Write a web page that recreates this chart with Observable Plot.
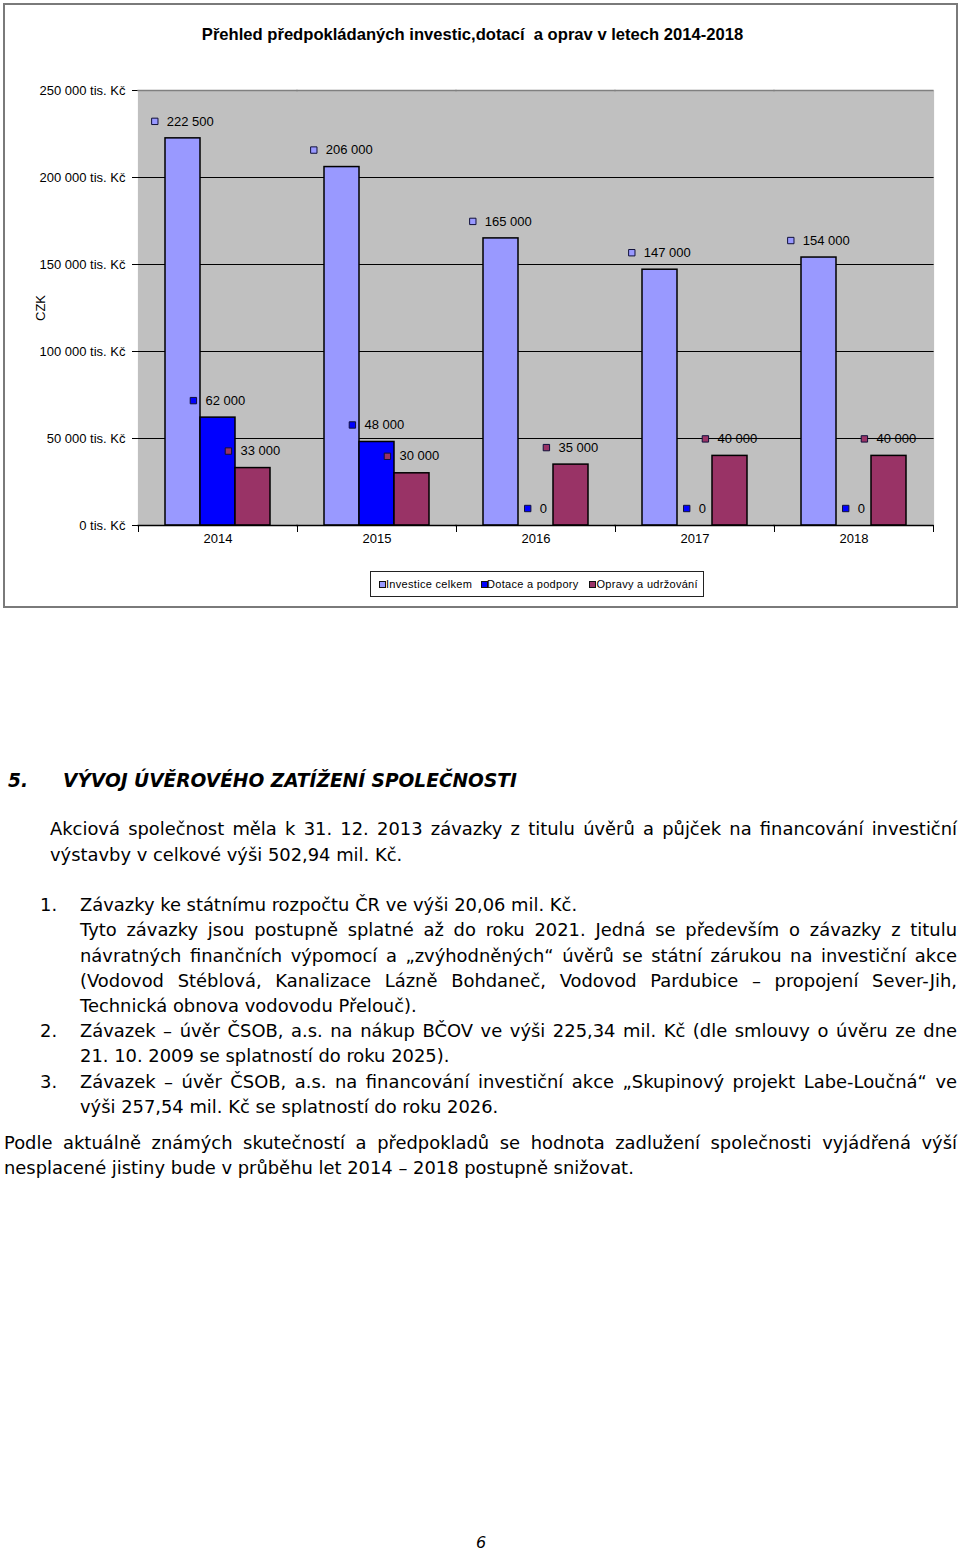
<!DOCTYPE html>
<html>
<head>
<meta charset="utf-8">
<script src="https://cdn.jsdelivr.net/npm/d3@7"></script>
<script src="https://cdn.jsdelivr.net/npm/@observablehq/plot@0.6"></script>
<style>
  html, body { margin: 0; padding: 0; background: #fff; }
  body { position: relative; width: 960px; height: 1553px; overflow: hidden; color: #000; }
  #box { position: absolute; left: 3px; top: 3px; width: 951px; height: 601px; border: 2px solid #7a7a7a; }
  #title { position: absolute; left: 0; width: 945px; top: 25px; text-align: center; white-space: pre;
           font: bold 16.6px/20px "Liberation Sans", Arial, sans-serif; }
  #chart { position: absolute; left: 0; top: 60px; }
  #legend { position: absolute; left: 370px; top: 571px; width: 332px; height: 24px; border: 1.5px solid #222;
            font: 11px/24px "Liberation Sans", Arial, sans-serif; }
  .li { position: absolute; top: 0; white-space: nowrap; letter-spacing: 0.3px; }
  .sw { position: absolute; top: 9px; width: 5px; height: 5px; border: 1px solid #111; }
  .doc { position: absolute; white-space: nowrap; font-family: "DejaVu Sans", sans-serif; font-size: 17.9px; line-height: 24px; }
  .just { text-align: justify; text-align-last: justify; }
  .h5 { position: absolute; top: 768px; font: italic bold 18.6px/26px "DejaVu Sans", sans-serif; white-space: nowrap; }
  #pg { position: absolute; left: 476px; top: 1532px; font: italic 16px/22px "DejaVu Sans", sans-serif; }
</style>
</head>
<body>
<div id="box"></div>
<div id="title"></div>
<div id="chart"></div>
<div id="legend"></div>

<div class="h5" style="left:8px">5.</div>
<div class="h5" style="left:63px">VÝVOJ ÚVĚROVÉHO ZATÍŽENÍ SPOLEČNOSTI</div>

<div class="doc just" style="left:50px;top:817px;width:907px">Akciová společnost měla k 31. 12. 2013 závazky z titulu úvěrů a půjček na financování investiční</div>
<div class="doc" style="left:50px;top:843px">výstavby v celkové výši 502,94 mil. Kč.</div>
<div class="doc" style="left:40px;top:893px">1.</div>
<div class="doc" style="left:80px;top:893px">Závazky ke státnímu rozpočtu ČR ve výši 20,06 mil. Kč.</div>
<div class="doc just" style="left:80px;top:918px;width:877px">Tyto závazky jsou postupně splatné až do roku 2021. Jedná se především o závazky z titulu</div>
<div class="doc just" style="left:80px;top:944px;width:877px">návratných finančních výpomocí a „zvýhodněných“ úvěrů se státní zárukou na investiční akce</div>
<div class="doc just" style="left:80px;top:969px;width:877px">(Vodovod Stéblová, Kanalizace Lázně Bohdaneč, Vodovod Pardubice – propojení Sever-Jih,</div>
<div class="doc" style="left:80px;top:994px">Technická obnova vodovodu Přelouč).</div>
<div class="doc" style="left:40px;top:1019px">2.</div>
<div class="doc just" style="left:80px;top:1019px;width:877px">Závazek – úvěr ČSOB, a.s. na nákup BČOV ve výši 225,34 mil. Kč (dle smlouvy o úvěru ze dne</div>
<div class="doc" style="left:80px;top:1044px">21. 10. 2009 se splatností do roku 2025).</div>
<div class="doc" style="left:40px;top:1070px">3.</div>
<div class="doc just" style="left:80px;top:1070px;width:877px">Závazek – úvěr ČSOB, a.s. na financování investiční akce „Skupinový projekt Labe-Loučná“ ve</div>
<div class="doc" style="left:80px;top:1095px">výši 257,54 mil. Kč se splatností do roku 2026.</div>
<div class="doc just" style="left:4px;top:1131px;width:953px">Podle aktuálně známých skutečností a předpokladů se hodnota zadlužení společnosti vyjádřená výší</div>
<div class="doc" style="left:4px;top:1156px">nesplacené jistiny bude v průběhu let 2014 – 2018 postupně snižovat.</div>

<div id="pg">6</div>

<script>
// ---------------- data ----------------
const chartTitle = "Přehled předpokládaných investic,dotací  a oprav v letech 2014-2018";
const years = [2014, 2015, 2016, 2017, 2018];
const seriesNames = ["Investice celkem", "Dotace a podpory", "Opravy a udržování"];
const investice = [222500, 206000, 165000, 147000, 154000];
const dotace = [62000, 48000, 0, 0, 0];
const opravy = [33000, 30000, 35000, 40000, 40000];
const seriesColors = ["#9999ff", "#0000ff", "#993366"];
const yTicks = [0, 50000, 100000, 150000, 200000, 250000];
const yTickLabels = ["0 tis. Kč", "50 000 tis. Kč", "100 000 tis. Kč", "150 000 tis. Kč", "200 000 tis. Kč", "250 000 tis. Kč"];
const yLabel = "CZK";

// ---------------- table ----------------
const seriesValues = [investice, dotace, opravy];
const fmt = v => d3.format(",")(v).replace(/,/g, " ");
const rows = [];
years.forEach((year, i) => seriesNames.forEach((s, j) => rows.push({year, series: s, value: seriesValues[j][i], label: fmt(seriesValues[j][i])})));

// ---------------- layout ----------------
const W = 960, H = 500, mt = 30, mb = 35, ml = 136, mr = 25;
const innerH = H - mt - mb;
const font = '"Liberation Sans", Arial, sans-serif';
const labelFontSize = 13;

document.getElementById("title").textContent = chartTitle;

// measure label widths to center swatch + text group over each bar
const ctx = document.createElement("canvas").getContext("2d");
ctx.font = `${labelFontSize}px ${font}`;
const widthOf = t => ctx.measureText(t).width;
const swGap = 12, swHalf = 3.5, shift = 1.3;
const groups = d3.groups(rows, d => Math.round(widthOf(d.label) * 10) / 10);
const labelMarks = groups.flatMap(([w, data]) => {
  const total = swHalf + swGap + w + swHalf;
  const swDx = -total / 2 + swHalf + shift;
  return [
    Plot.dot(data, {fx: "year", x: "series", y: "value", dy: -17, dx: swDx, symbol: "square", r: 3.6,
                    fill: "series", stroke: "#10103a", strokeWidth: 1}),
    Plot.text(data, {fx: "year", x: "series", y: "value", dy: -17, dx: swDx + swGap, text: "label",
                     textAnchor: "start", fill: "#000", fontSize: labelFontSize})
  ];
});

const chart = Plot.plot({
  width: W, height: H,
  marginTop: mt, marginBottom: mb, marginLeft: ml, marginRight: mr,
  style: {fontFamily: font, fontSize: "13px", color: "#000", background: "transparent"},
  fx: {domain: years, padding: 0, label: null, tickSize: 0, tickPadding: 8, tickFormat: d => String(d)},
  x: {domain: seriesNames, paddingInner: 0, paddingOuter: 0.76, axis: null},
  y: {domain: [0, 250000], ticks: yTicks, tickFormat: d => yTickLabels[yTicks.indexOf(d)],
      tickSize: 6, tickPadding: 7, label: yLabel, labelAnchor: "center", labelArrow: "none", labelOffset: 103, line: true},
  color: {domain: seriesNames, range: seriesColors},
  marks: [
    Plot.frame({fill: "#c0c0c0", stroke: null, insetLeft: -0.6, insetRight: -0.6}),
    Plot.ruleY(yTicks.filter(d => d > 0 && d < 250000), {stroke: "#000", strokeWidth: 1, insetLeft: -0.6, insetRight: -0.6}),
    Plot.ruleY([250000], {stroke: "#808080", strokeWidth: 1.5, insetLeft: -0.6, insetRight: -0.6}),
    Plot.barY(rows, {fx: "year", x: "series", y: "value", fill: "series", stroke: "#000", strokeWidth: 1.5}),
    Plot.ruleY([0], {stroke: "#000", strokeWidth: 1.5, insetLeft: -0.6, insetRight: -0.6}),
    Plot.frame({anchor: "left", insetTop: innerH, insetBottom: -6, stroke: "#000"}),
    Plot.frame({anchor: "right", insetTop: innerH, insetBottom: -6, stroke: "#000"}),
    ...labelMarks
  ]
});
document.getElementById("chart").appendChild(chart);

// legend (HTML, below the svg inside the chart box)
const legend = document.getElementById("legend");
const swLeft = [7.5, 110, 218], txLeft = [15, 116, 225.5];
seriesNames.forEach((s, i) => {
  const sw = document.createElement("div");
  sw.className = "sw"; sw.style.left = swLeft[i] + "px"; sw.style.background = seriesColors[i];
  legend.appendChild(sw);
  const t = document.createElement("div");
  t.className = "li"; t.style.left = txLeft[i] + "px"; t.textContent = s;
  legend.appendChild(t);
});
</script>
</body>
</html>
